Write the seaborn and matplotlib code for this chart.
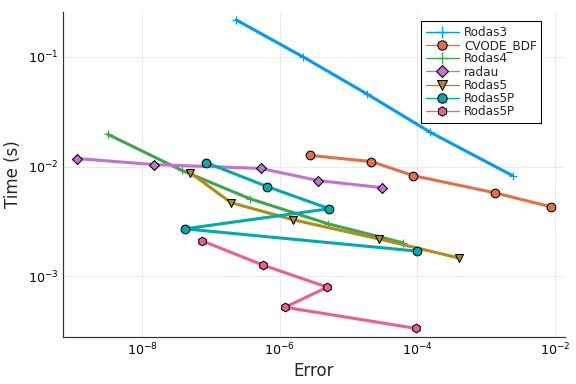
import numpy as np
import pandas as pd
import matplotlib
matplotlib.use("Agg")
import matplotlib.pyplot as plt
from matplotlib.lines import Line2D
import seaborn as sns

# work-precision data (error, time in s)
rodas3_err = [2.33e-7, 2.2e-6, 1.87e-5, 1.55e-4, 2.41e-3]
rodas3_time = [0.218, 0.100, 0.0458, 0.0205, 0.00826]

cvode_err = [2.78e-6, 2.14e-5, 8.75e-5, 1.32e-3, 8.6e-3]
cvode_time = [0.01262, 0.01111, 0.00826, 0.00577, 0.0043]

rodas4_err = [3.2e-9, 3.82e-8, 3.72e-7, 5.07e-6, 6.25e-5]
rodas4_time = [0.0197, 0.0092, 0.00508, 0.0030, 0.00201]

radau_err = [1.13e-9, 1.5e-8, 5.38e-7, 3.63e-6, 3.1e-5]
radau_time = [0.01183, 0.01042, 0.0096, 0.00745, 0.00641]

rodas5_err = [4.99e-8, 1.97e-7, 1.57e-6, 2.8e-5, 4.08e-4]
rodas5_time = [0.00881, 0.00468, 0.00327, 0.00218, 0.00146]

rodas5p_err = [8.53e-8, 6.58e-7, 5.25e-6, 4.22e-8, 1.0e-4]
rodas5p_time = [0.01088, 0.00656, 0.00412, 0.0027, 0.00169]

rodas5p2_err = [7.47e-8, 5.75e-7, 4.91e-6, 1.2e-6, 9.67e-5]
rodas5p2_time = [0.00210, 0.00126, 0.000793, 0.00052, 0.000333]

series = [
    ("Rodas3", rodas3_err, rodas3_time, "#009AFA", "+"),
    ("CVODE_BDF", cvode_err, cvode_time, "#E36F47", "o"),
    ("Rodas4", rodas4_err, rodas4_time, "#3EA44E", "+"),
    ("radau", radau_err, radau_time, "#C371D2", "D"),
    ("Rodas5", rodas5_err, rodas5_time, "#AC8E18", "v"),
    ("Rodas5P", rodas5p_err, rodas5p_time, "#00AAAE", "o"),
    ("Rodas5P", rodas5p2_err, rodas5p2_time, "#ED5E93", "h"),
]

sns.set_style("white")
plt.rcParams['font.family'] = ['DejaVu Sans']

fig = plt.figure(figsize=(6, 4), dpi=96)
ax = fig.add_axes([0.109, 0.122, 0.872, 0.847])

for i, (name, err, t, col, mk) in enumerate(series):
    df = pd.DataFrame({"err": err, "time": t})
    if mk == "+":
        kw = dict(markersize=6, markeredgewidth=0.8, markeredgecolor=col)
    else:
        ms = 5.5 if mk == "D" else 6.5
        kw = dict(markersize=ms, markeredgewidth=0.8, markeredgecolor="black")
    sns.lineplot(data=df, x="err", y="time", ax=ax, sort=False, estimator=None,
                 color=col, marker=mk, linewidth=2.3, label=f"_s{i}", **kw)

ax.set_xscale("log")
ax.set_yscale("log")
ax.set_xlim(10 ** -9.149, 10 ** -1.855)
ax.set_ylim(10 ** -3.557, 10 ** -0.589)
ax.set_xticks([1e-8, 1e-6, 1e-4, 1e-2])
ax.set_yticks([1e-3, 1e-2, 1e-1])
ax.minorticks_off()
ax.grid(True, color="#e6e6e6", linewidth=0.6)
ax.tick_params(direction="in", length=3, labelsize=9.5, colors="#333333",
               labelcolor="black")
for s in ["top", "right"]:
    ax.spines[s].set_visible(False)
for s in ["left", "bottom"]:
    ax.spines[s].set_color("#333333")
    ax.spines[s].set_linewidth(0.9)
ax.set_xlabel("Error", fontsize=12.5, labelpad=3)
ax.set_ylabel("Time (s)", fontsize=12.5, labelpad=4)

handles = []
for name, err, t, col, mk in series:
    if mk == "+":
        h = Line2D([], [], color=col, marker=mk, markersize=9, markeredgecolor=col,
                   linewidth=1)
    else:
        h = Line2D([], [], color=col, marker=mk, markersize=7 if mk != "D" else 6,
                   markeredgecolor="black", markeredgewidth=0.8, linewidth=1)
    handles.append(h)
leg = ax.legend(handles, [s[0] for s in series], loc="upper right",
                bbox_to_anchor=(0.965, 0.99), fontsize=9, frameon=True,
                fancybox=False, edgecolor="black", framealpha=1,
                handlelength=2.8, labelspacing=0.02, borderpad=0.4,
                handletextpad=0.4)
leg.get_frame().set_linewidth(0.8)

fig.savefig("out.png", dpi=96)
